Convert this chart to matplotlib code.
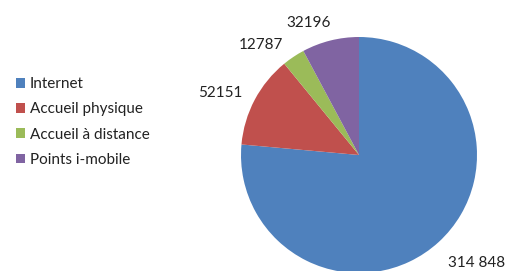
import numpy as np
import matplotlib
matplotlib.use("Agg")
import matplotlib.pyplot as plt
from matplotlib.patches import Patch

categories = ["Internet", "Accueil physique", "Accueil à distance", "Points i-mobile"]
values = [314848, 52151, 12787, 32196]
value_labels = ["314 848", "52151", "12787", "32196"]
colors = ["#4F81BD", "#C0504D", "#9BBB59", "#8064A2"]

# label placement relative to wedge middle (distance in radii, angle shift in degrees)
label_dist = [1.35, 1.29, 1.25, 1.2]
label_shift = [5, 4, 8, 7]

plt.rcParams["font.family"] = ["Lato", "DejaVu Sans"]

fig = plt.figure(figsize=(5.08, 2.71), dpi=100)
W, H = 508, 271
cx, cy, r = 359, 155, 118
ax = fig.add_axes([(cx - r) / W, (H - cy - r) / H, 2 * r / W, 2 * r / H])

wedges, _ = ax.pie(values, colors=colors, startangle=90, counterclock=False,
                   wedgeprops=dict(linewidth=0))
for w, lab, d, s in zip(wedges, value_labels, label_dist, label_shift):
    ang = np.deg2rad((w.theta1 + w.theta2) / 2 + s)
    ax.text(d * np.cos(ang), d * np.sin(ang), lab, ha="center", va="center",
            fontsize=11, color="#222222", clip_on=False)
ax.set_xlim(-1, 1)
ax.set_ylim(-1, 1)
ax.set_aspect("equal")

handles = [Patch(facecolor=c, edgecolor="none") for c in colors]
fig.legend(handles, categories, loc="upper left", bbox_to_anchor=(10 / W, 1 - 71 / H),
           frameon=False, fontsize=11, handlelength=0.6, handleheight=0.6,
           handletextpad=0.3, labelspacing=0.74, borderaxespad=0,
           labelcolor="#222222")

fig.savefig("out.png", dpi=100)
